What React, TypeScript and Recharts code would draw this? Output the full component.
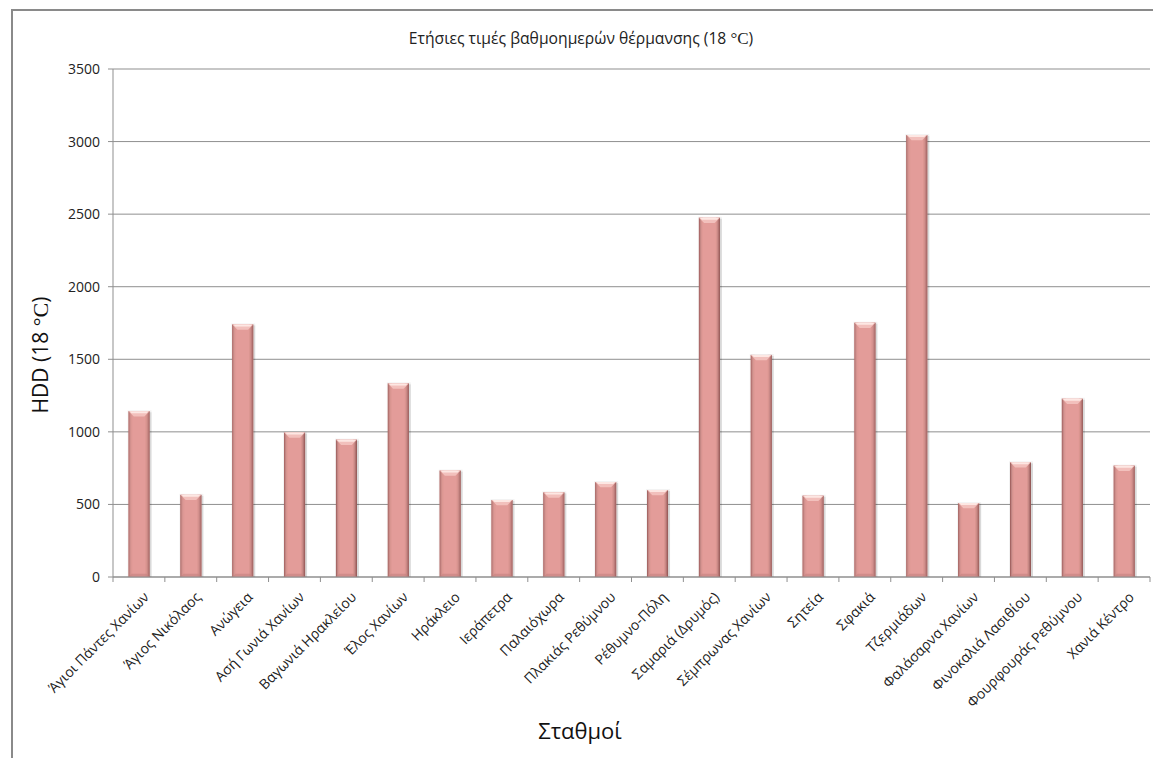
import React from 'react';
import { BarChart, Bar, XAxis, YAxis, CartesianGrid } from 'recharts';

// Σταθμοί και ετήσιες βαθμοημέρες θέρμανσης (βάση 18 °C)
const stations = [
  'Άγιοι Πάντες Χανίων',
  'Άγιος Νικόλαος',
  'Ανώγεια',
  'Ασή Γωνιά Χανίων',
  'Βαγωνιά Ηρακλείου',
  'Έλος Χανίων',
  'Ηράκλειο',
  'Ιεράπετρα',
  'Παλαιόχωρα',
  'Πλακιάς Ρεθύμνου',
  'Ρέθυμνο-Πόλη',
  'Σαμαριά (Δρυμός)',
  'Σέμπρωνας Χανίων',
  'Σητεία',
  'Σφακιά',
  'Τζερμιάδων',
  'Φαλάσαρνα Χανίων',
  'Φινοκαλιά Λασιθίου',
  'Φουρφουράς Ρεθύμνου',
  'Χανιά Κέντρο',
];

const hdd = [
  1142, 566, 1740, 995, 946, 1334, 733, 530, 583, 654,
  599, 2475, 1530, 560, 1752, 3045, 509, 790, 1228, 767,
];

const yTicks = [0, 500, 1000, 1500, 2000, 2500, 3000, 3500];

const data = stations.map((name, i) => ({ name, hdd: hdd[i] }));

const WIDTH = 1153;
const HEIGHT = 758;
const PLOT_LEFT = 113;
const PLOT_RIGHT = 1150;
const BAND = (PLOT_RIGHT - PLOT_LEFT) / stations.length;
const FONT = '"Open Sans", "Noto Sans", sans-serif';
const GRID = '#8f8f8f';

// χρώματα για τις λωρίδες στις άκρες της μπάρας (από έξω προς τα μέσα)
const leftEdge = ['#a46563', '#c08482', '#d5938f', '#de9995'];
const rightEdge = ['#965b59', '#b07270', '#c78784', '#d8948f'];

// μπάρα με ανάγλυφη όψη (φωτεινό καπάκι, σκούρες άκρες), μόνο με συμπαγή χρώματα
const BevelBar = (props: any) => {
  const { x, y, width, height } = props;
  if (!height || height <= 0) return null;
  const b = Math.min(6, width / 4);
  return (
    <g>
      <rect x={x - 1} y={y - 1} width={width + 3} height={height + 1} fill="#000" opacity={0.05} />
      <rect x={x + 1} y={y + 1} width={width + 1} height={height - 1} fill="#000" opacity={0.1} />
      <rect x={x} y={y} width={width} height={height} fill="#e39c99" />
      {leftEdge.map((c, i) => (
        <rect key={`l${i}`} x={x + i} y={y} width={1} height={height} fill={c} />
      ))}
      {rightEdge.map((c, i) => (
        <rect key={`r${i}`} x={x + width - 1 - i} y={y} width={1} height={height} fill={c} />
      ))}
      <polygon
        points={`${x},${y} ${x + width},${y} ${x + width - b},${y + b} ${x + b},${y + b}`}
        fill="#f2c0bc"
      />
      <polygon
        points={`${x + 1},${y} ${x + width - 1},${y} ${x + width - 3},${y + 2} ${x + 3},${y + 2}`}
        fill="#fde7e3"
      />
      <polygon
        points={`${x},${y + height} ${x + width},${y + height} ${x + width - b + 2},${y + height - b + 2} ${x + b - 2},${y + height - b + 2}`}
        fill="#c27f7d"
        opacity={0.55}
      />
    </g>
  );
};

const StationTick = (props: any) => {
  const { x, payload, index } = props;
  const axisY = 577;
  const left = x - BAND / 2;
  return (
    <g>
      <line x1={left} y1={axisY} x2={left} y2={axisY + 5} stroke={GRID} />
      {index === stations.length - 1 && (
        <line x1={left + BAND} y1={axisY} x2={left + BAND} y2={axisY + 5} stroke={GRID} />
      )}
      <text
        transform={`translate(${x + 11},${axisY + 21}) rotate(-45)`}
        textAnchor="end"
        fontSize={14}
        fontFamily={FONT}
        fill="#222"
      >
        {payload.value}
      </text>
    </g>
  );
};

export default function App() {
  return (
    <div style={{ position: 'absolute', left: 0, top: 0, width: WIDTH, height: HEIGHT, background: '#fff', overflow: 'hidden' }}>
      <div
        style={{
          position: 'absolute',
          left: 11,
          top: 9,
          width: WIDTH,
          height: HEIGHT,
          borderTop: '2px solid #8a8a8a',
          borderLeft: '2px solid #8a8a8a',
        }}
      />
      <div
        style={{
          position: 'absolute',
          left: 0,
          width: 1162,
          top: 27,
          textAlign: 'center',
          fontFamily: FONT,
          fontSize: 15.7,
          color: '#222',
          whiteSpace: 'nowrap',
        }}
      >
        Ετήσιες τιμές βαθμοημερών θέρμανσης (18 <span style={{ fontFamily: '"Liberation Serif", serif', fontSize: 17 }}>°C</span>)
      </div>
      <div
        style={{
          position: 'absolute',
          left: 40,
          top: 355,
          transform: 'translate(-50%, -50%) rotate(-90deg)',
          fontFamily: FONT,
          fontSize: 21,
          color: '#111',
          whiteSpace: 'nowrap',
        }}
      >
        HDD (18 <span style={{ fontFamily: '"Liberation Serif", serif', fontSize: 22 }}>°C</span>)
      </div>
      <div
        style={{
          position: 'absolute',
          left: 0,
          width: 1160,
          top: 715,
          textAlign: 'center',
          fontFamily: FONT,
          fontSize: 22,
          color: '#111',
        }}
      >
        Σταθμοί
      </div>
      <div style={{ position: 'absolute', left: 0, top: 0 }}>
        <BarChart
          width={WIDTH}
          height={HEIGHT}
          data={data}
          margin={{ top: 69, right: WIDTH - PLOT_RIGHT, bottom: 0, left: PLOT_LEFT - 50 }}
          barCategoryGap="30%"
        >
          <CartesianGrid vertical={false} stroke={GRID} strokeWidth={1} />
          <XAxis
            dataKey="name"
            interval={0}
            height={HEIGHT - 577}
            axisLine={{ stroke: GRID }}
            tickLine={false}
            tick={<StationTick />}
          />
          <YAxis
            width={50}
            domain={[0, 3500]}
            ticks={yTicks}
            interval={0}
            axisLine={{ stroke: GRID }}
            tickLine={{ stroke: GRID }}
            tickSize={5}
            tickMargin={8}
            tick={{ fontSize: 14, fontFamily: FONT, fill: '#222' }}
          />
          <Bar dataKey="hdd" shape={<BevelBar />} isAnimationActive={false} />
        </BarChart>
      </div>
    </div>
  );
}
